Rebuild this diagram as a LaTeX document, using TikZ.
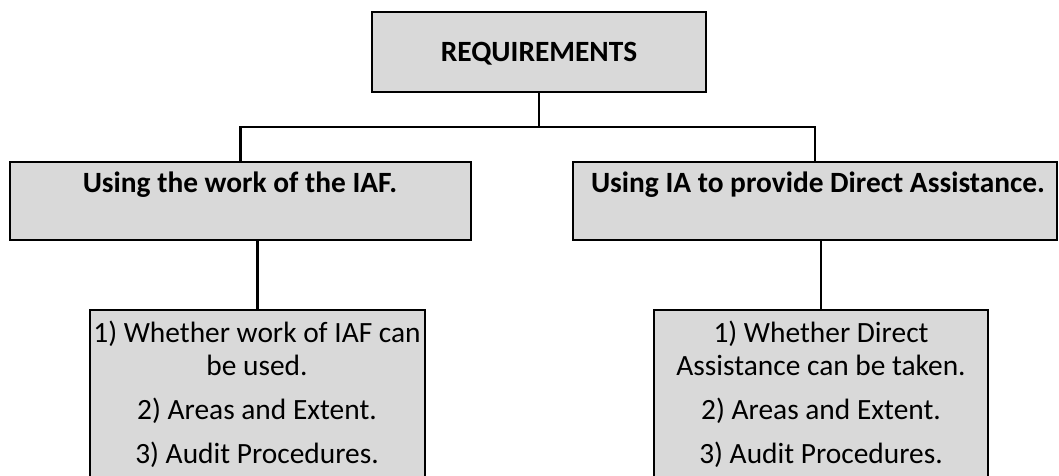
\documentclass[tikz,border=0pt]{standalone}
\usepackage{fontspec}
\setmainfont{Carlito}
\begin{document}
\begin{tikzpicture}[x=1pt,y=-1pt,
  box/.style={draw=black, line width=2.3pt, fill=boxgray, inner sep=0pt, outer sep=0pt, anchor=north west},
  link/.style={draw=black, line width=2.3pt},
  head/.style={font=\fontsize{29.4}{35}\selectfont\bfseries, inner sep=0pt, anchor=base},
  item/.style={font=\fontsize{29.4}{35}\selectfont, inner sep=0pt, anchor=base}]
\definecolor{boxgray}{HTML}{D9D9D9}
\clip (0,0) rectangle (1059,475);

% boxes
\node[box, minimum width=334pt, minimum height=80pt] (req) at (372,12) {};
\node[box, minimum width=461pt, minimum height=78pt] (left) at (10,162) {};
\node[box, minimum width=484pt, minimum height=78pt] (right) at (573,162) {};
\node[box, minimum width=335pt, minimum height=190pt] (lowL) at (90,310) {};
\node[box, minimum width=334pt, minimum height=190pt] (lowR) at (654,310) {};

% texts
\node[head] (reqT) at (539,61) {REQUIREMENTS};
\node[head] (leftT) at (240,192) {Using the work of the IAF.};
\node[head] (rightT) at (818,192) {Using IA to provide Direct Assistance.};

\node[item] (l1) at (257,342) {1) Whether work of IAF can};
\node[item] (l2) at (257,375) {be used.};
\node[item] (l3) at (257,419) {2) Areas and Extent.};
\node[item] (l4) at (257,463) {3) Audit Procedures.};

\node[item] (r1) at (821,342) {1) Whether Direct};
\node[item] (r2) at (821,375) {Assistance can be taken.};
\node[item] (r3) at (821,419) {2) Areas and Extent.};
\node[item] (r4) at (821,463) {3) Audit Procedures.};

% connectors
\coordinate (j) at ([yshift=-35pt]req.south);
\draw[link] (req.south) -- (j);
\draw[link] (j) -| (left.north);
\draw[link] (j) -| (right.north);
\draw[link] (lowL.north) -- (lowL.north |- left.south);
\draw[link] (lowR.north) -- (lowR.north |- right.south);
\end{tikzpicture}
\end{document}
